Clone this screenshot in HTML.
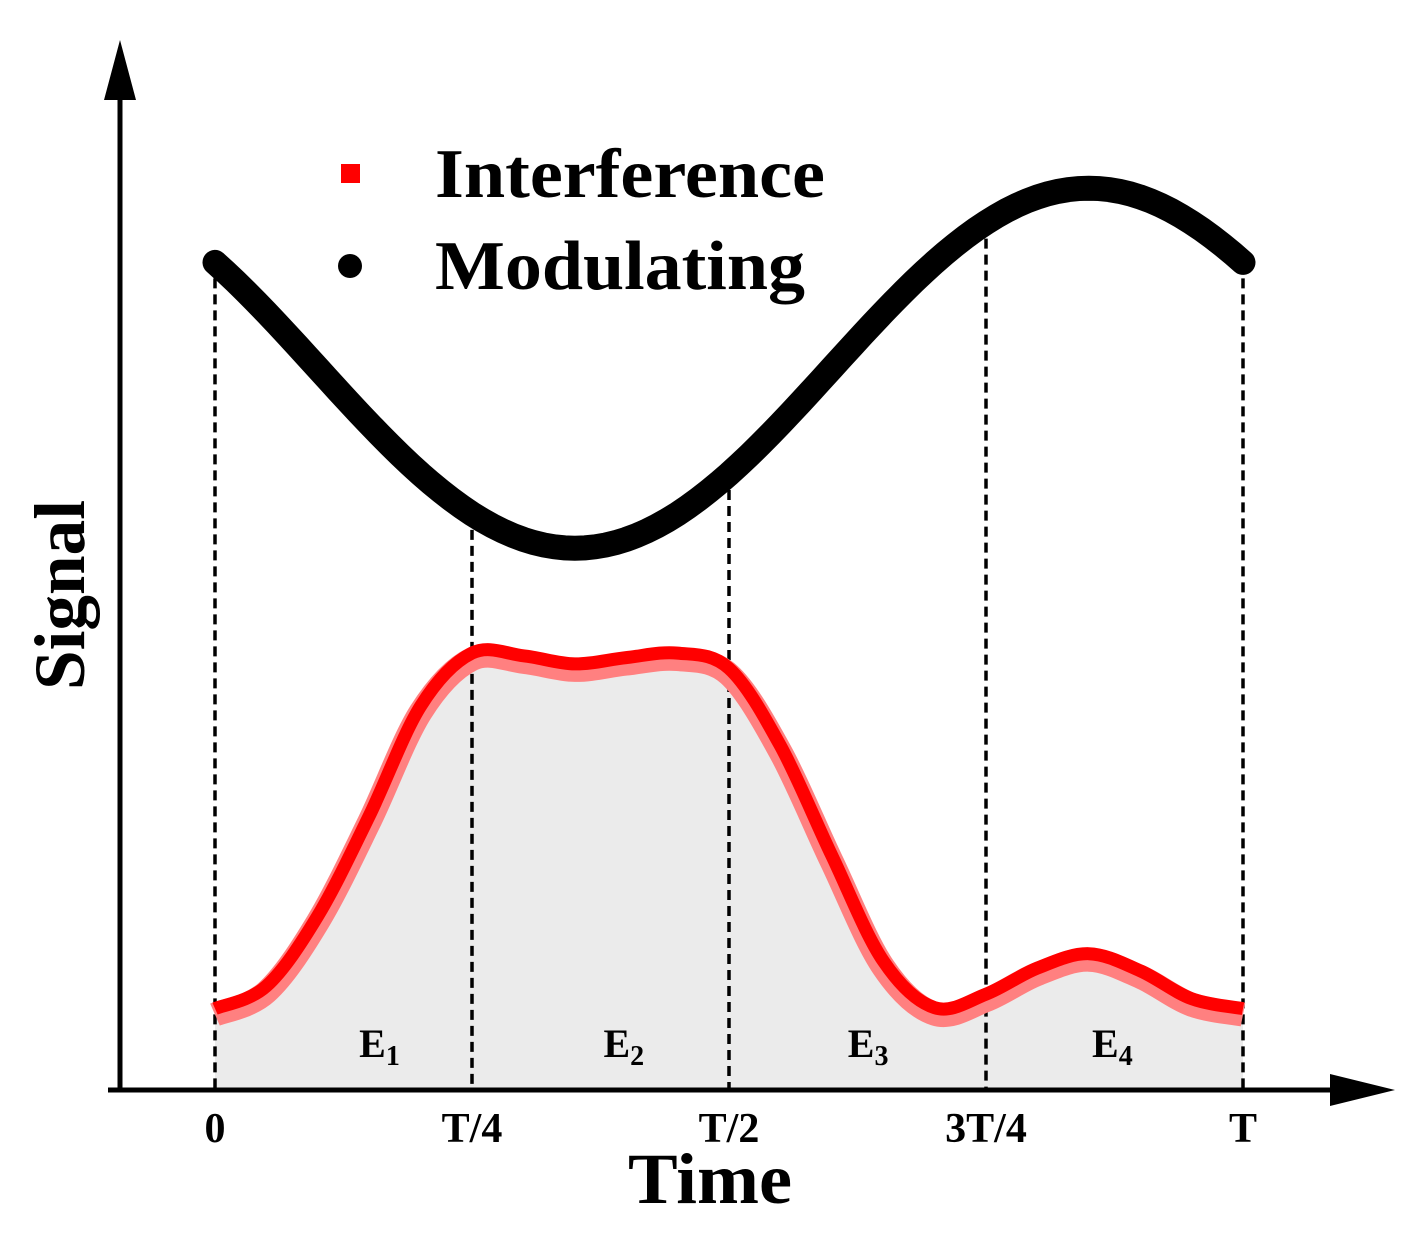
<!DOCTYPE html>
<html><head><meta charset="utf-8"><style>
html,body{margin:0;padding:0;background:#fff;}
svg{display:block;font-family:"Liberation Serif",serif;font-weight:bold;}
</style></head><body>
<svg id="chart" width="1414" height="1235" viewBox="0 0 1414 1235" xmlns="http://www.w3.org/2000/svg">
<g id="fillLayer"></g>
<g id="dashLayer"></g>
<g id="lineLayer"></g>
<g>
<line x1="120" y1="1090" x2="120" y2="80" stroke="#000" stroke-width="5"/>
<polygon points="120,40 104,100 136,100" fill="#000"/>
<line x1="108" y1="1090" x2="1350" y2="1090" stroke="#000" stroke-width="5"/>
<polygon points="1395,1090 1330,1074 1330,1106" fill="#000"/>
</g>
<g id="tickLayer"></g>
<g id="eLayer"></g>
<text transform="translate(84,595) rotate(-90)" text-anchor="middle" font-size="72" textLength="190" lengthAdjust="spacingAndGlyphs">Signal</text>
<text x="628" y="1203" font-size="72" textLength="164" lengthAdjust="spacingAndGlyphs">Time</text>
<g>
<rect x="341" y="164" width="19" height="19" fill="#ff0000"/>
<text x="435" y="197" font-size="70" textLength="390" lengthAdjust="spacingAndGlyphs">Interference</text>
<circle cx="350" cy="266" r="12" fill="#000"/>
<text x="435" y="289" font-size="70" textLength="370" lengthAdjust="spacingAndGlyphs">Modulating</text>
</g>
</svg>
<script>
const tickLabels = ["0","T/4","T/2","3T/4","T"];
const tickTimes = [0,0.25,0.5,0.75,1];
const energyLabels = ["1","2","3","4"];
const interferenceTimes = [0,0.05,0.1,0.15,0.2,0.25,0.3,0.35,0.4,0.45,0.5,0.55,0.6,0.65,0.7,0.75,0.8,0.85,0.9,0.95,1];
const interferenceValues = [0.86,1.11,1.89,3.0,4.22,4.81,4.78,4.69,4.76,4.81,4.64,3.78,2.56,1.39,0.87,1.02,1.31,1.47,1.28,0.97,0.86];
const modAmplitude = 2.0;
const modCenter = 8.02;
const modPhase = 0.35;

const NS="http://www.w3.org/2000/svg";
const x = t => 215 + t*1028;
const y = v => 1090 - v*90;
function mod(t){ return modCenter - modAmplitude*Math.cos(2*Math.PI*(t-modPhase)); }
function mk(tag,attrs,parent){const e=document.createElementNS(NS,tag);for(const k in attrs)e.setAttribute(k,attrs[k]);parent.appendChild(e);return e;}
function smooth(pts){let d="M"+pts[0][0]+","+pts[0][1];for(let i=0;i<pts.length-1;i++){const p0=pts[Math.max(0,i-1)],p1=pts[i],p2=pts[i+1],p3=pts[Math.min(pts.length-1,i+2)];d+=" C"+(p1[0]+(p2[0]-p0[0])/6)+","+(p1[1]+(p2[1]-p0[1])/6)+" "+(p2[0]-(p3[0]-p1[0])/6)+","+(p2[1]-(p3[1]-p1[1])/6)+" "+p2[0]+","+p2[1];}return d;}

const ipts = interferenceTimes.map((t,i)=>[x(t),y(interferenceValues[i])]);
const idPath = smooth(ipts);
const fill = mk("path",{d:idPath+" L"+x(1)+",1090 L"+x(0)+",1090 Z",fill:"#ebebeb"},document.getElementById("fillLayer"));



const dl=document.getElementById("dashLayer");
tickTimes.forEach((t,i)=>{
  const ln=mk("line",{x1:x(t),x2:x(t),y1:y(mod(t)),y2:1090,stroke:"#000","stroke-width":3.5,"stroke-dasharray":"10 6"},dl);
  
  
});

const ll=document.getElementById("lineLayer");
const mpts=[];for(let k=0;k<=100;k++){const t=k/100;mpts.push([x(t),y(mod(t))]);}
const mline=mk("path",{d:"M"+mpts.map(p=>p.join(",")).join(" L"),fill:"none",stroke:"#000","stroke-width":25,"stroke-linecap":"round"},ll);


const pink=mk("path",{d:idPath,fill:"none",stroke:"#ff8080","stroke-width":24,"stroke-linecap":"butt",transform:"translate(0,2)"},ll);


const red=mk("path",{d:idPath,fill:"none",stroke:"#ff0000","stroke-width":13,"stroke-linecap":"butt",transform:"translate(0,-4)"},ll);



const tl=document.getElementById("tickLayer");
tickLabels.forEach((s,i)=>{
  const tx=mk("text",{x:x(tickTimes[i]),y:1142,"text-anchor":"middle","font-size":42},tl);
  tx.textContent=s;
  
  
});
const el=document.getElementById("eLayer");
energyLabels.forEach((s,i)=>{
  const mid=x((tickTimes[i]+tickTimes[i+1])/2);
  const cx=mid+36-i*12.7;
  const tx=mk("text",{x:cx,y:1057,"text-anchor":"middle","font-size":40},el);
  tx.textContent="E";
  const sub=mk("tspan",{"font-size":28,dy:8},tx);
  sub.textContent=s;
  
  
});
</script>
</body></html>
